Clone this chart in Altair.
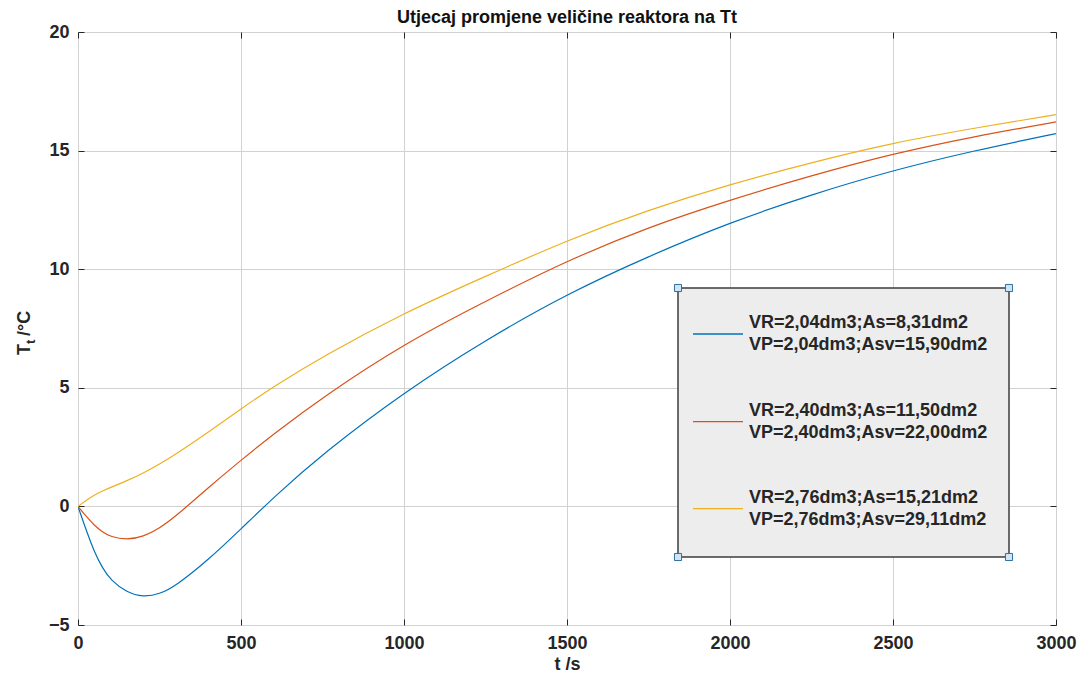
import altair as alt
import pandas as pd

# ---------------- data ----------------
t_s = [0, 25, 50, 75, 100, 150, 200, 250, 300, 400, 500, 600, 750,
       1000, 1250, 1500, 1750, 2000, 2250, 2500, 2750, 3000]

tt_blue = [0, -1.0, -1.92, -2.6, -3.1, -3.64, -3.82, -3.7, -3.35, -2.25, -0.95, 0.38, 2.22,
           4.82, 7.02, 8.96, 10.55, 11.97, 13.15, 14.17, 15.0, 15.72]
tt_red = [0, -0.42, -0.8, -1.08, -1.28, -1.41, -1.28, -0.92, -0.42, 0.8, 1.95, 3.05, 4.6,
          6.86, 8.65, 10.36, 11.78, 12.92, 13.95, 14.87, 15.6, 16.21]
tt_yellow = [0, 0.26, 0.48, 0.65, 0.8, 1.08, 1.4, 1.78, 2.2, 3.12, 4.12, 5.05, 6.32,
             8.16, 9.7, 11.22, 12.5, 13.58, 14.5, 15.33, 15.95, 16.52]

series_names = ["s1", "s2", "s3"]
series_colors = ["#0072BD", "#D95319", "#EDB120"]
legend_labels = [
    ["VR=2,04dm3;As=8,31dm2", "VP=2,04dm3;Asv=15,90dm2"],
    ["VR=2,40dm3;As=11,50dm2", "VP=2,40dm3;Asv=22,00dm2"],
    ["VR=2,76dm3;As=15,21dm2", "VP=2,76dm3;Asv=29,11dm2"],
]
x_ticks = [0, 500, 1000, 1500, 2000, 2500, 3000]
y_ticks = [-5, 0, 5, 10, 15, 20]
title_text = "Utjecaj promjene veličine reaktora na Tt"

# ---------------- table ----------------
rows = []
for name, vals in zip(series_names, [tt_blue, tt_red, tt_yellow]):
    for i, (t, v) in enumerate(zip(t_s, vals)):
        rows.append({"t": t, "T": v, "series": name, "order": i})
df = pd.DataFrame(rows)
one = pd.DataFrame({"a": [0]})

W, H = 978, 593
FONT = "Liberation Sans"
DARK = "#262626"

xscale = alt.Scale(domain=[0, 3000], nice=False, zero=False)
yscale = alt.Scale(domain=[-5, 20], nice=False, zero=False)

lines = alt.Chart(df).mark_line(strokeWidth=1.2, interpolate="basis", clip=True).encode(
    x=alt.X("t:Q", scale=xscale,
            axis=alt.Axis(values=x_ticks, format="d", grid=True, gridColor="#D2D2D2", gridWidth=1,
                          domain=False, ticks=True, tickSize=6, offset=-6, tickColor=DARK,
                          labelFlush=False, labelPadding=9, labelFont=FONT, labelFontSize=18,
                          labelFontWeight="bold", labelColor=DARK,
                          title="t /s", titleFont=FONT, titleFontSize=18, titleFontWeight="bold",
                          titleColor=DARK, titlePadding=3)),
    y=alt.Y("T:Q", scale=yscale,
            axis=alt.Axis(values=y_ticks, format="d", grid=True, gridColor="#D2D2D2", gridWidth=1,
                          domain=False, ticks=True, tickSize=6, offset=-6, tickColor=DARK,
                          labelPadding=9, labelFont=FONT, labelFontSize=18,
                          labelFontWeight="bold", labelColor=DARK, title=None)),
    color=alt.Color("series:N", scale=alt.Scale(domain=series_names, range=series_colors), legend=None),
    order="order:Q",
)

box_axes = alt.Chart(df).mark_line(opacity=0).encode(
    x=alt.X("t:Q", scale=xscale,
            axis=alt.Axis(orient="top", values=x_ticks, grid=False, domain=False, labels=False,
                          ticks=True, tickSize=6, offset=-6, tickColor=DARK, title=None)),
    y=alt.Y("T:Q", scale=yscale,
            axis=alt.Axis(orient="right", values=y_ticks, grid=False, domain=False, labels=False,
                          ticks=True, tickSize=6, offset=-6, tickColor=DARK, title=None)),
    detail="series:N",
)

# chart title
title_mark = alt.Chart(one).mark_text(align="center", baseline="middle", font=FONT,
                                      fontSize=18, fontWeight="bold", color="#111111").encode(
    x=alt.value(W / 2), y=alt.value(-14), text=alt.value(title_text))

# y-axis title  T_t /°C  (rotated, with subscript)
ytitle_T = alt.Chart(one).mark_text(angle=270, align="left", baseline="alphabetic", font=FONT,
                                    fontSize=18, fontWeight="bold", color=DARK).encode(
    x=alt.value(-48), y=alt.value(323), text=alt.value("T"))
ytitle_sub = alt.Chart(one).mark_text(angle=270, align="left", baseline="alphabetic", font=FONT,
                                      fontSize=13, fontWeight="bold", color=DARK).encode(
    x=alt.value(-43), y=alt.value(312), text=alt.value("t"))
ytitle_rest = alt.Chart(one).mark_text(angle=270, align="left", baseline="alphabetic", font=FONT,
                                       fontSize=18, fontWeight="bold", color=DARK).encode(
    x=alt.value(-48), y=alt.value(304), text=alt.value(" /°C"))

# legend box
lx0, lx1, ly0, ly1 = 600, 931, 256, 525
leg_box = alt.Chart(one).mark_rect(fill="#EDEDED", stroke="#3C3C3C", strokeWidth=1.5).encode(
    x=alt.value(lx0), x2=alt.value(lx1), y=alt.value(ly0), y2=alt.value(ly1))

layers = [lines, box_axes, title_mark, ytitle_T, ytitle_sub, ytitle_rest, leg_box]

sample_y = [302, 389.7, 476.7]
for i in range(3):
    layers.append(alt.Chart(one).mark_rule(strokeWidth=1.3, color=series_colors[i]).encode(
        x=alt.value(615), x2=alt.value(665), y=alt.value(sample_y[i])))
    for j in range(2):
        layers.append(alt.Chart(one).mark_text(align="left", baseline="middle", font=FONT,
                                               fontSize=18, fontWeight="bold", color=DARK).encode(
            x=alt.value(671), y=alt.value(sample_y[i] - 11 + 22 * j),
            text=alt.value(legend_labels[i][j])))

for hx in (lx0, lx1):
    for hy in (ly0, ly1):
        layers.append(alt.Chart(one).mark_square(size=50, fill="#CDE6F7", stroke="#2F6E9E",
                                                 strokeWidth=1, opacity=1).encode(
            x=alt.value(hx), y=alt.value(hy)))

chart = alt.layer(*layers).resolve_axis(x="independent", y="independent").properties(
    width=W, height=H,
    autosize=alt.AutoSizeParams(type="none"),
    padding={"left": 70, "top": 24, "right": 21, "bottom": 50},
).configure_view(fill="#EBEBEB", stroke="#3C3C3C", strokeWidth=1).configure(background="white")

chart.save("out.html", embed_options={"renderer": "svg", "actions": False})
